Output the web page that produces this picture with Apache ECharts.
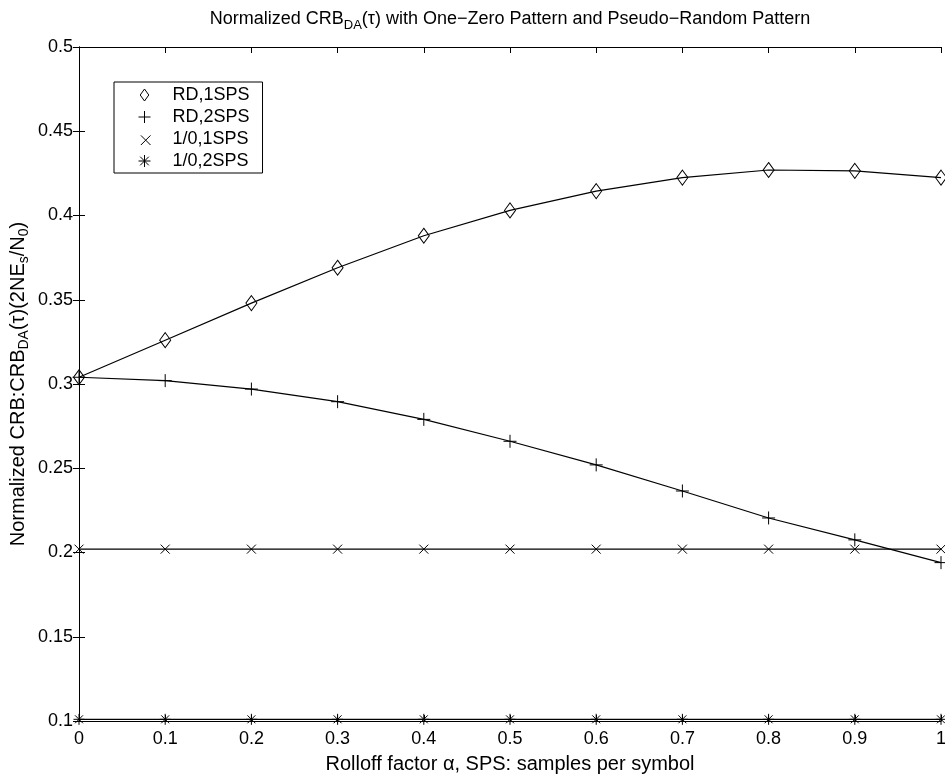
<!DOCTYPE html>
<html>
<head>
<meta charset="utf-8">
<script src="https://cdn.jsdelivr.net/npm/echarts@6/dist/echarts.min.js"></script>
<style>
  html, body { margin: 0; padding: 0; background: #fff; }
  #chart { width: 945px; height: 775px; }
</style>
</head>
<body>
<div id="chart"></div>
<script>
// rolloff factor alpha
const alphas = [0, 0.1, 0.2, 0.3, 0.4, 0.5, 0.6, 0.7, 0.8, 0.9, 1]
// normalized CRB values
const rd1sps = [0.304, 0.326, 0.348, 0.369, 0.388, 0.403, 0.4145, 0.4225, 0.427, 0.4265, 0.4225]
const rd2sps = [0.304, 0.302, 0.297, 0.2895, 0.279, 0.266, 0.252, 0.2365, 0.2205, 0.2075, 0.194]
const oz1sps = [0.202, 0.202, 0.202, 0.202, 0.202, 0.202, 0.202, 0.202, 0.202, 0.202, 0.202]
const oz2sps = [0.101, 0.101, 0.101, 0.101, 0.101, 0.101, 0.101, 0.101, 0.101, 0.101, 0.101]
const seriesNames = ['RD,1SPS', 'RD,2SPS', '1/0,1SPS', '1/0,2SPS']

const FONT = 'Liberation Sans'
const diamond = 'path://M0,-7L5,0L0,7L-5,0Z'
const plus = 'path://M0,-6L0,6M-6,0L6,0'
const cross = 'path://M-4,-4L4,4M-4,4L4,-4'
const star = 'path://M0,-5L0,5M-5,0L5,0M-3.6,-3.6L3.6,3.6M-3.6,3.6L3.6,-3.6'

const markerStyle = { color: 'none', borderColor: '#000', borderWidth: 1 }

const mk = (name, vals, symbol, size) => ({
  name: name,
  type: 'line',
  data: alphas.map((a, i) => [a, vals[i]]),
  symbol: symbol,
  symbolSize: size,
  showAllSymbol: true,
  lineStyle: { color: '#000', width: 1.2 },
  itemStyle: markerStyle,
  animation: false,
  clip: false
})

const chart = echarts.init(document.getElementById('chart'), null, { renderer: 'canvas' })

const axisCommon = {
  axisLine: { show: true, lineStyle: { color: '#000', width: 1 } },
  axisTick: { show: true, inside: true, length: 6, lineStyle: { color: '#000' } },
  splitLine: { show: false }
}

chart.setOption({
  backgroundColor: '#fff',
  title: {
    text: 'Normalized CRB{sub|DA}(τ) with One−Zero Pattern and Pseudo−Random Pattern',
    left: 505,
    top: 2,
    textAlign: 'center',
    textStyle: {
      fontFamily: FONT, fontSize: 18, fontWeight: 'normal', color: '#000',
      rich: {
        sub: { fontFamily: FONT, fontSize: 13, color: '#000', padding: [12, 0, 0, 0] }
      }
    }
  },
  legend: {
    orient: 'vertical',
    left: 114,
    top: 82,
    padding: [4, 13, 3, 22],
    itemWidth: 12,
    itemHeight: 12,
    itemGap: 4,
    backgroundColor: '#fff',
    borderColor: '#000',
    borderWidth: 1,
    selectedMode: false,
    textStyle: { fontFamily: FONT, fontSize: 18, color: '#000', lineHeight: 18, padding: [0, 0, 0, 17] },
    data: [
      { name: seriesNames[0], icon: diamond, itemStyle: markerStyle },
      { name: seriesNames[1], icon: plus, itemStyle: markerStyle },
      { name: seriesNames[2], icon: 'path://M-4,-4L4,4M-4,4L4,-4M-6,-6L-6,-6', itemStyle: markerStyle },
      { name: seriesNames[3], icon: star, itemStyle: markerStyle }
    ]
  },
  grid: { left: 79, right: 4, top: 47, bottom: 54, containLabel: false, outerBoundsMode: 'none' },
  xAxis: [
    Object.assign({
      type: 'value', min: 0, max: 1, interval: 0.1,
      name: 'Rolloff factor α, SPS: samples per symbol',
      nameLocation: 'middle', nameGap: 33,
      nameTextStyle: { fontFamily: FONT, fontSize: 20, color: '#000' },
      axisLabel: { fontFamily: FONT, fontSize: 18, color: '#000', margin: 9 }
    }, axisCommon),
    Object.assign({
      type: 'value', min: 0, max: 1, interval: 0.1, position: 'top',
      axisLabel: { show: false }
    }, axisCommon)
  ],
  yAxis: [
    Object.assign({
      type: 'value', min: 0.1, max: 0.5, interval: 0.05,
      name: 'Normalized CRB:CRB{sub|DA}(τ)(2NE{sub|s}/N{sub|0})',
      nameLocation: 'middle', nameRotate: 90, nameGap: 48, nameMoveOverlap: false,
      nameTextStyle: {
        fontFamily: FONT, fontSize: 20, color: '#000',
        rich: { sub: { fontFamily: FONT, fontSize: 14, color: '#000', padding: [12, 0, 0, 0] } }
      },
      axisLabel: { fontFamily: FONT, fontSize: 18, color: '#000', margin: 6 }
    }, axisCommon),
    Object.assign({
      type: 'value', min: 0.1, max: 0.5, interval: 0.05, position: 'right',
      axisLabel: { show: false }
    }, axisCommon)
  ],
  series: [
    mk(seriesNames[0], rd1sps, diamond, [11, 15]),
    mk(seriesNames[1], rd2sps, plus, 13),
    mk(seriesNames[2], oz1sps, cross, 9),
    mk(seriesNames[3], oz2sps, star, 11)
  ]
})
</script>
</body>
</html>
